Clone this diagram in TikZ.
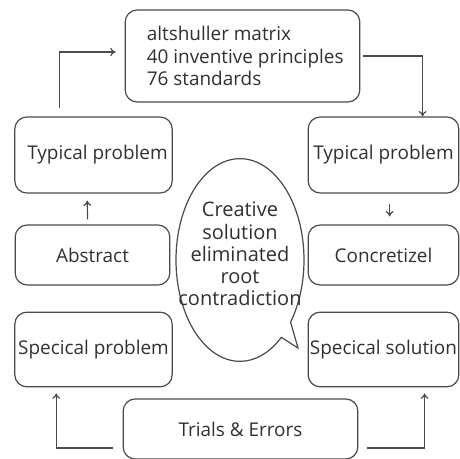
\documentclass[tikz,border=0pt]{standalone}
\usepackage{fontspec}
\setmainfont{Open Sans}
\usetikzlibrary{shapes.callouts,arrows.meta,calc}
\definecolor{linegray}{HTML}{4A4A4A}
\definecolor{textgray}{HTML}{303030}

\begin{document}
\begin{tikzpicture}[x=0.75pt,y=-0.75pt,
        box/.style={draw=linegray,line width=0.9pt,rounded corners=9pt,inner sep=0pt,
            text=textgray,font=\fontsize{14.2}{16.8}\selectfont},
        link/.style={draw=linegray,line width=0.9pt,-{To[length=4pt,width=6pt]}}]
        \useasboundingbox (0,0) rectangle (460,459);

        \node[box,minimum width=176pt,minimum height=69pt,align=left] (matrix) at (242.5,56)
            {\hspace*{4pt}altshuller matrix\\\hspace*{4pt}40 inventive principles\\\hspace*{4pt}76 standards};
        \node[box,minimum width=118pt,minimum height=57pt] (typl) at (93.5,155) {\hspace*{6pt}Typical problem};
        \node[box,minimum width=113pt,minimum height=57pt] (typr) at (383.5,155) {Typical problem};
        \node[box,minimum width=116pt,minimum height=45pt] (abstr) at (92.5,255) {Abstract};
        \node[box,minimum width=113pt,minimum height=45pt] (concr) at (383.5,255) {Concretizel};
        \node[box,minimum width=118pt,minimum height=56pt] (specp) at (93.5,349.5) {Specical problem};
        \node[box,minimum width=113pt,minimum height=56pt] (specs) at (383.5,349.5) {Specical solution};
        \node[box,minimum width=176pt,minimum height=45pt] (trials) at (240.5,429) {Trials \& Errors};

        \node[draw=linegray,line width=0.9pt,ellipse callout,inner sep=0pt,
            minimum width=96pt,minimum height=152pt,
            callout absolute pointer={(298,348)},callout pointer arc=12] (idea) at (240,260) {};
        \node[text=textgray,align=center,inner sep=0pt,font=\fontsize{15}{16.6}\selectfont] (ideatext)
            at ($(idea)+(0,-6)$) {Creative\\solution\\eliminated\\root\\contradiction};

        \draw[link] ($(typl.north west)+(45,-8)$) |- ($(matrix.west)+(-9,-4)$);
        \draw[link] ($(matrix.east)+(3,0)$) -| ($(typr.north west)+(115,0)$);
        \draw[link] ($(abstr.north west)+(73,-5)$) -- ($(typl.south west)+(73,7)$);
        \draw[link] ($(typr.south west)+(82,10)$) -- ($(concr.north west)+(82,-8)$);
        \draw[link] ($(trials.west)+(-10,19)$) -| ($(specp.south west)+(42,6)$);
        \draw[link] ($(trials.east)+(9,19)$) -| ($(specs.south west)+(117,6)$);
    \end{tikzpicture}
\end{document}
